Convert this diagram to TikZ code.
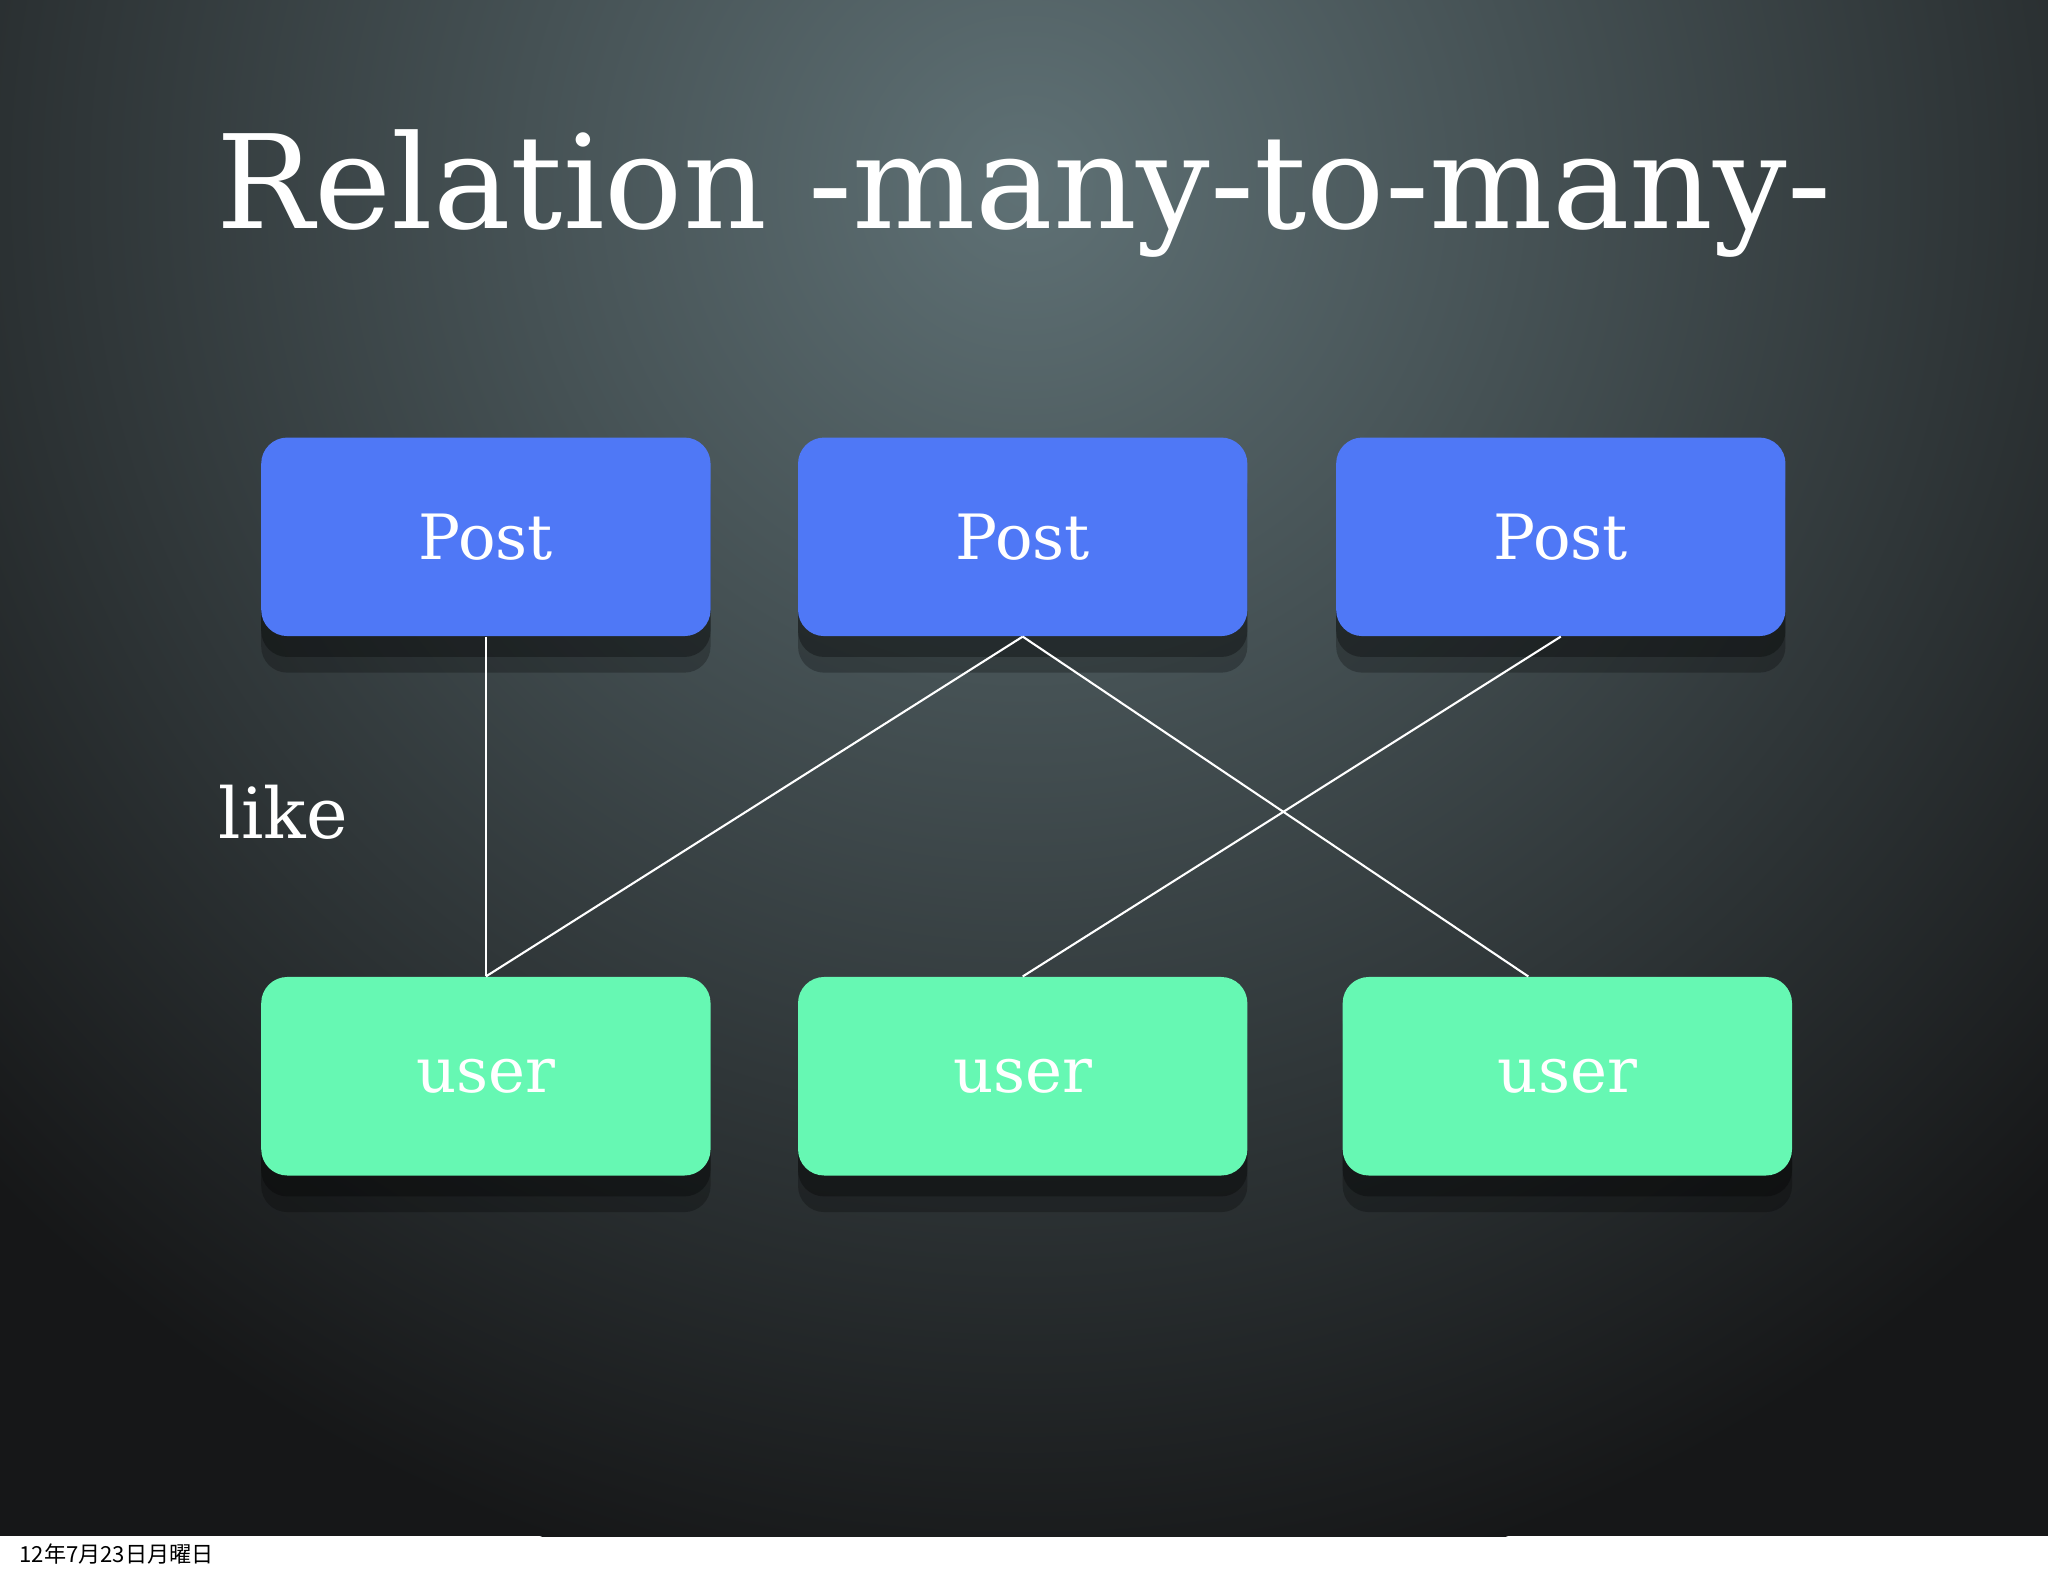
\documentclass[tikz,border=0pt]{standalone}
\usepackage{fontspec}
\setmainfont{DejaVu Serif}
\newfontfamily\cjk{Noto Sans CJK JP}
\usetikzlibrary{shadows}
\definecolor{bgdark}{HTML}{161718}
\definecolor{bglight}{HTML}{5F7175}
\definecolor{postblue}{HTML}{4F78F6}
\definecolor{usergreen}{HTML}{66F8B3}
\tikzset{
 box/.style={rounded corners=10bp,minimum width=172bp,minimum height=76bp,inner sep=0pt,
   text=white,font=\fontsize{24}{28}\selectfont,
   drop shadow={opacity=0.25,shadow xshift=0bp,shadow yshift=-14bp,fill=black},
   drop shadow={opacity=0.3,shadow xshift=0bp,shadow yshift=-8bp,fill=black}},
 postbox/.style={box,fill=postblue},
 userbox/.style={box,fill=usergreen},
 link/.style={draw=white,line width=0.8bp}
}
\begin{document}
\begin{tikzpicture}[x=0.5bp,y=-0.5bp]
\useasboundingbox (0,0) rectangle (1568,1206);
\fill[white] (0,0) rectangle (1568,1206);
\begin{scope}
\clip (0,0) rectangle (1568,1176);
\fill[bgdark] (0,0) rectangle (1568,1176);
\shade[inner color=bglight,outer color=bgdark] (784,140) circle (1100);
\end{scope}
\node[text=white,font=\fontsize{50}{56}\selectfont] (title) at (784,148) {Relation -many-to-many-};
\node[postbox] (p1) at (372,411) {Post};
\node[postbox] (p2) at (783,411) {Post};
\node[postbox] (p3) at (1195,411) {Post};
\node[userbox] (u1) at (372,824) {user};
\node[userbox] (u2) at (783,824) {user};
\node[userbox] (u3) at (1200,824) {user};
\node[text=white,font=\fontsize{27}{30}\selectfont] (like) at (217,622) {like};
\draw[link] (p1.south) -- (u1.north);
\draw[link] (p2.south) -- (u1.north);
\draw[link] (p2.south) -- ([xshift=-15]u3.north);
\draw[link] (p3.south) -- (u2.north);
\node[anchor=west,font=\cjk\fontsize{8.5}{10}\selectfont] (foot) at (8,1190) {12年7月23日月曜日};
\end{tikzpicture}
\end{document}
